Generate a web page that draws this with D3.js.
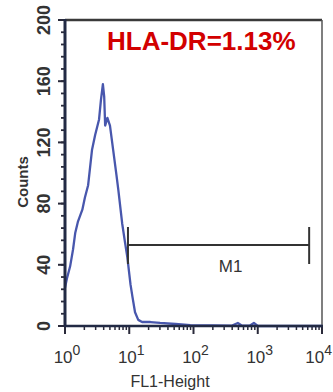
<!DOCTYPE html>
<html><head><meta charset="utf-8">
<script src="https://cdn.jsdelivr.net/npm/d3@7"></script>
<style>body{margin:0;background:#fff}svg{display:block}text{font-family:"Liberation Sans",Arial,sans-serif}</style>
</head><body><svg id="c" width="333" height="392"></svg>
<script>
// Histogram trace: [log10 FL1 value, counts]
const logFL1 = [0.0,0.03,0.08,0.125,0.16,0.2,0.27,0.31,0.36,0.42,0.47,0.53,0.56,0.59,0.61,0.625,0.66,0.70,0.75,0.80,0.83,0.89,0.94,0.97,1.02,1.05,1.09,1.14,1.2,1.33,1.48,1.72,1.95,2.3,2.6,2.69,2.75,2.88,2.94,3.0,3.5,4.0];
const counts = [25,31,39,50,61,68,76,84,92,115,125,135,148,158,150,131,136,131,115,99,89,67,53,45,27,19,9,4,2.6,2.6,2,1.3,0.5,0.4,0.3,2,0.3,0.3,2,0,0,0];
const yTicks = [0,40,80,120,160,200];
const xDecades = [0,1,2,3,4];
const titleText = "HLA-DR=1.13%";
const markerLabel = "M1";
const markerRange = [0.98, 3.8]; // log10 range of M1 gate
const xLabel = "FL1-Height", yLabel = "Counts";

const svg = d3.select("#c");
const W=333, L=65, R=322, T=20, B=326;
const x = d3.scaleLinear().domain([0,4]).range([L,R]);
const y = d3.scaleLinear().domain([0,200]).range([B,T]);

// frame top and right
svg.append("line").attr("x1",L).attr("x2",R).attr("y1",T).attr("y2",T).attr("stroke","#3a3a3a").attr("stroke-width",2.5);
svg.append("line").attr("x1",R).attr("x2",R).attr("y1",T).attr("y2",B).attr("stroke","#555").attr("stroke-width",1.5);

// histogram
const pts = logFL1.map((v,i)=>[v,counts[i]]);
svg.append("path").datum(pts)
  .attr("d", d3.line().x(d=>x(d[0])).y(d=>y(d[1])))
  .attr("fill","none").attr("stroke","#4857ad").attr("stroke-width",2.3).attr("stroke-linejoin","round");

// y axis
const yMinor = d3.range(0,201,8);
const ya = svg.append("g");
ya.selectAll("line.mi").data(yMinor).join("line").attr("x1",L-4).attr("x2",L).attr("y1",d=>y(d)).attr("y2",d=>y(d)).attr("stroke","#2a2a3a").attr("stroke-width",1.8);
ya.selectAll("line.ma").data(yTicks).join("line").attr("x1",L-7).attr("x2",L).attr("y1",d=>y(d)).attr("y2",d=>y(d)).attr("stroke","#2a2a3a").attr("stroke-width",2);
ya.append("line").attr("x1",L).attr("x2",L).attr("y1",T-1).attr("y2",B+1).attr("stroke","#222a44").attr("stroke-width",3);
ya.selectAll("text").data(yTicks).join("text")
  .attr("transform",d=>`translate(50,${y(d)}) rotate(-90)`)
  .attr("text-anchor","middle").attr("font-size",18).attr("font-weight","bold").attr("fill","#333")
  .text(d=>d);
svg.append("text").attr("transform","translate(28,182) rotate(-90)").attr("text-anchor","middle")
  .attr("font-size",15).attr("font-weight","bold").attr("fill","#333").text(yLabel);

// x axis
const xMinor = [];
for (let dd=0; dd<4; dd++) for (let k=2;k<=9;k++) xMinor.push(dd+Math.log10(k));
const xa = svg.append("g");
xa.selectAll("line.mi").data(xMinor).join("line").attr("x1",d=>x(d)).attr("x2",d=>x(d)).attr("y1",B).attr("y2",B+4).attr("stroke","#2a2a3a").attr("stroke-width",1.5);
xa.selectAll("line.ma").data(xDecades).join("line").attr("x1",d=>x(d)).attr("x2",d=>x(d)).attr("y1",B).attr("y2",B+8).attr("stroke","#2a2a3a").attr("stroke-width",2);
xa.append("line").attr("x1",L-1).attr("x2",R+1).attr("y1",B).attr("y2",B).attr("stroke","#222a44").attr("stroke-width",2.5);
const xt = xa.selectAll("text").data(xDecades).join("text")
  .attr("x",d=>d===4 ? W-1 : x(d)+2).attr("y",363)
  .attr("text-anchor",d=>d===4 ? "end" : "middle").attr("font-size",17).attr("fill","#333");
xt.append("tspan").text("10");
xt.append("tspan").attr("dy",-8).attr("font-size",14).text(d=>d);
svg.append("text").attr("x",170).attr("y",387).attr("text-anchor","middle").attr("font-size",16).attr("fill","#333").text(xLabel);

// M1 marker
const my = 245;
svg.append("line").attr("x1",x(markerRange[0])).attr("x2",x(markerRange[1])).attr("y1",my).attr("y2",my).attr("stroke","#333").attr("stroke-width",2);
svg.selectAll("line.mk").data(markerRange).join("line").attr("x1",d=>x(d)).attr("x2",d=>x(d)).attr("y1",my-18).attr("y2",my+19).attr("stroke","#333").attr("stroke-width",2);
svg.append("text").attr("x",(x(markerRange[0])+x(markerRange[1]))/2+12).attr("y",272).attr("text-anchor","middle").attr("font-size",17).attr("fill","#333").text(markerLabel);

// title
svg.append("text").attr("x",107).attr("y",50).attr("font-size",26).attr("font-weight","bold").attr("fill","#d20000").text(titleText);
</script></body></html>
